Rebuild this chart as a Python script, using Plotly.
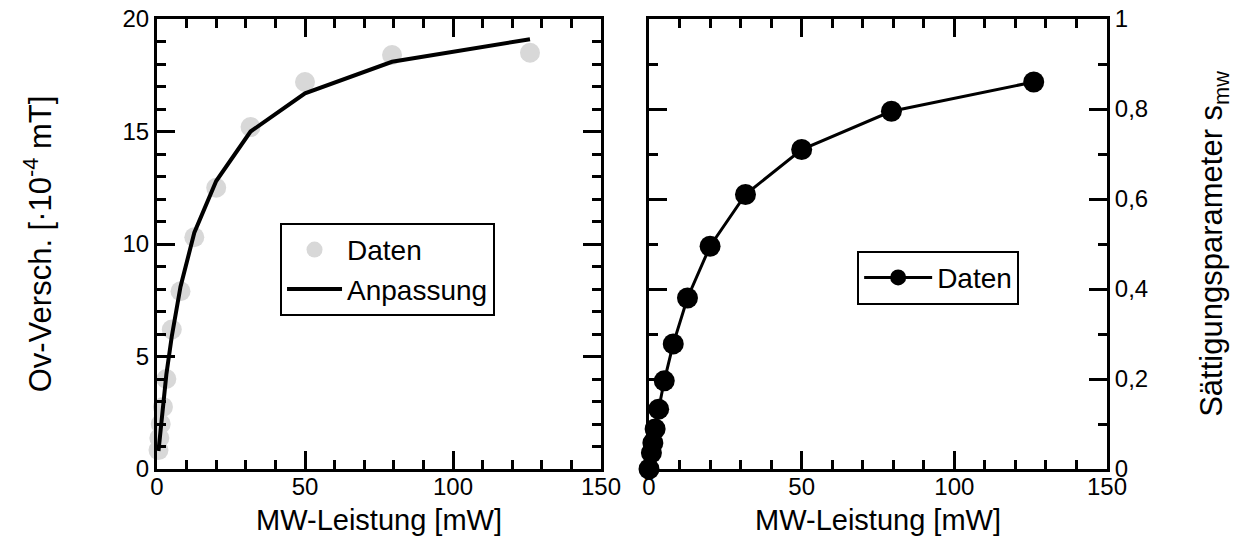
import plotly.graph_objects as go

# MW power [mW]
power = [0.5, 0.79, 1.26, 2.0, 3.16, 5.0, 7.94, 12.6, 20.0, 31.6, 50.0, 79.4, 126.0]
# Left panel: Overhauser shift data and fit [1e-4 mT]
shift_data = [0.84, 1.38, 2.0, 2.76, 4.0, 6.2, 7.9, 10.3, 12.5, 15.2, 17.2, 18.4, 18.5]
shift_fit = [0.8, 1.2, 1.9, 2.9, 4.2, 5.9, 8.1, 10.5, 12.8, 15.0, 16.7, 18.1, 19.1]
# Right panel: saturation parameter
power_s = [0.0, 0.79, 1.26, 2.0, 3.16, 5.0, 7.94, 12.6, 20.0, 31.6, 50.0, 79.4, 126.0]
sat = [0.0, 0.036, 0.058, 0.089, 0.133, 0.196, 0.278, 0.38, 0.495, 0.61, 0.71, 0.795, 0.86]

FONT = "Liberation Sans, Arial, Helvetica, sans-serif"
TICK = 24
XTITLE = 29
YTITLE = 31
LEG = 28

fig = go.Figure()
fig.add_trace(go.Scatter(x=power, y=shift_data, mode="markers", name="Daten",
                         marker=dict(color="#d8d8d8", size=20), cliponaxis=False,
                         xaxis="x", yaxis="y", legend="legend"))
fig.add_trace(go.Scatter(x=power, y=shift_fit, mode="lines", name="Anpassung",
                         line=dict(color="black", width=4), cliponaxis=False,
                         xaxis="x", yaxis="y", legend="legend"))
fig.add_trace(go.Scatter(x=power_s, y=sat, mode="lines+markers", name="Daten",
                         line=dict(color="black", width=3),
                         marker=dict(color="black", size=21), cliponaxis=False,
                         xaxis="x2", yaxis="y2", legend="legend2"))

def xax(domain, anchor):
    return dict(domain=domain, anchor=anchor, range=[0, 150], tickvals=[0, 50, 100, 150],
                automargin=False,
                ticks="inside", ticklen=18, tickwidth=3, tickcolor="black",
                showline=True, linewidth=3, linecolor="black", mirror="allticks",
                minor=dict(dtick=10, tick0=0, ticks="inside", ticklen=9, tickwidth=3, tickcolor="black"),
                showgrid=False, zeroline=False, ticklabelstandoff=-6,
                tickfont=dict(size=TICK, color="black", family=FONT),
                title=dict(text="MW-Leistung [mW]", font=dict(size=XTITLE, color="black", family=FONT), standoff=11))

fig.update_layout(
    width=1241, height=540,
    margin=dict(l=157, r=134, t=19, b=71, autoexpand=False),
    paper_bgcolor="white", plot_bgcolor="white",
    separators=",.",
    font=dict(family=FONT, color="black"),
    xaxis=xax([0, 0.4674], "y"),
    xaxis2=xax([0.5179, 1], "y2"),
    yaxis=dict(domain=[0, 1], anchor="x", range=[0, 20], dtick=5, tick0=0, automargin=False,
               ticks="inside", ticklen=18, tickwidth=3, tickcolor="black",
               showline=True, linewidth=3, linecolor="black", mirror="allticks",
               minor=dict(dtick=1, ticks="inside", ticklen=9, tickwidth=3, tickcolor="black"),
               showgrid=False, zeroline=False,
               tickfont=dict(size=TICK, color="black", family=FONT),
               title=dict(text="Ov-Versch. [·10<sup>-4</sup> mT]",
                          font=dict(size=YTITLE, color="black", family=FONT), standoff=62)),
    yaxis2=dict(domain=[0, 1], anchor="x2", side="right", range=[0, 1], dtick=0.2, tick0=0,
                automargin=False,
                ticks="inside", ticklen=18, tickwidth=3, tickcolor="black",
                showline=True, linewidth=3, linecolor="black", mirror="allticks",
                minor=dict(dtick=0.1, ticks="inside", ticklen=9, tickwidth=3, tickcolor="black"),
                showgrid=False, zeroline=False,
                tickfont=dict(size=TICK, color="black", family=FONT),
                title=dict(text="Sättigungsparameter s<sub>mw</sub>",
                           font=dict(size=YTITLE, color="black", family=FONT), standoff=54)),
    legend=dict(x=0.1295, y=0.547, xanchor="left", yanchor="top",
                bordercolor="black", borderwidth=2, bgcolor="white", itemwidth=55,
                font=dict(size=LEG, color="black", family=FONT), tracegroupgap=0),
    legend2=dict(x=0.737, y=0.485, xanchor="left", yanchor="top",
                 bordercolor="black", borderwidth=2, bgcolor="white", itemwidth=68,
                 font=dict(size=LEG, color="black", family=FONT)),
    showlegend=True,
)

fig.write_html("out.html")
